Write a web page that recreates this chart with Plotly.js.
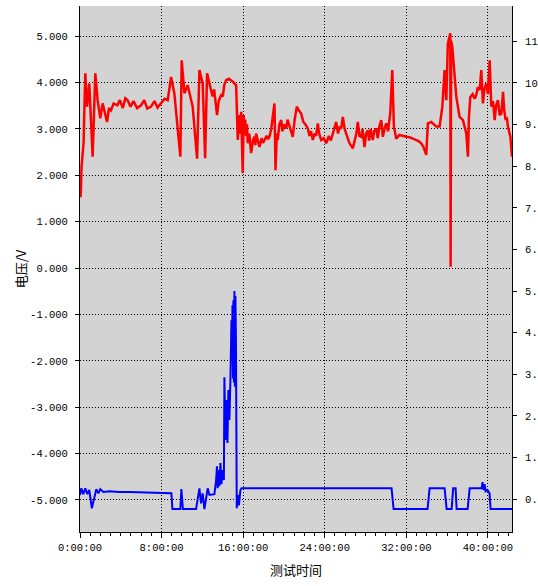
<!DOCTYPE html>
<html>
<head>
<meta charset="utf-8">
<script src="https://cdn.plot.ly/plotly-3.0.1.min.js"></script>
<style>html,body{margin:0;padding:0;background:#fff}#chart{width:538px;height:586px}</style>
</head>
<body>
<div id="chart"></div>
<script>
// Red series: [test time (hours), voltage (V, left axis)]
var redPoints = [
[0.0,1.65],[0.05,1.53],[0.1,1.75],[0.15,2.18],[0.35,2.69],[0.52,4.2],[0.69,3.48],[0.91,3.98],[1.24,2.4],[1.5,4.2],
[1.73,3.62],[1.99,3.23],[2.22,3.55],[2.45,3.3],[2.65,3.15],[2.85,3.45],[3.04,3.4],[3.3,3.55],[3.66,3.51],[3.9,3.62],
[4.2,3.45],[4.45,3.66],[4.67,3.62],[4.95,3.48],[5.25,3.6],[5.6,3.45],[5.99,3.51],[6.3,3.62],[6.6,3.44],[6.97,3.48],
[7.3,3.6],[7.6,3.46],[7.95,3.55],[8.3,3.65],[8.6,3.62],[8.93,4.12],[9.25,3.77],[9.84,2.4],[9.97,4.48],[10.24,3.77],
[10.56,3.94],[11.05,3.48],[11.48,2.36],[11.71,4.27],[12.03,3.98],[12.27,2.37],[12.46,4.2],[12.86,3.84],[13.0,3.7],[13.15,3.85],
[13.3,3.5],[13.44,3.3],[13.6,3.6],[13.84,3.73],[14.0,3.7],[14.15,3.95],[14.33,4.05],[14.6,4.08],[14.98,4.02],[15.31,3.94],
[15.47,2.76],[15.6,3.3],[15.7,2.9],[15.8,3.37],[15.96,2.05],[16.05,3.3],[16.12,2.9],[16.2,3.2],[16.29,2.85],[16.37,3.1],
[16.45,2.69],[16.6,2.9],[16.78,2.48],[16.95,2.75],[17.1,2.83],[17.2,2.65],[17.27,2.9],[17.45,2.75],[17.6,2.61],[17.8,2.8],
[17.95,2.7],[18.09,2.76],[18.3,2.85],[18.45,2.78],[18.58,2.83],[18.75,3.0],[18.9,3.33],[19.07,3.55],[19.17,2.11],[19.3,2.9],
[19.39,2.76],[19.55,3.1],[19.73,3.19],[19.85,2.95],[20.0,3.1],[20.22,3.01],[20.35,3.2],[20.54,3.05],[20.7,2.95],[20.86,2.83],
[21.05,3.2],[21.26,3.48],[21.45,3.4],[21.69,3.33],[21.9,3.15],[22.1,3.1],[22.34,3.01],[22.5,2.85],[22.65,2.95],[22.83,2.76],
[23.0,2.9],[23.15,2.85],[23.32,3.12],[23.45,2.9],[23.65,2.76],[23.9,2.8],[24.14,2.69],[24.4,2.85],[24.6,2.75],[24.79,2.9],
[24.95,3.0],[25.12,3.15],[25.3,2.9],[25.45,3.05],[25.6,3.0],[25.77,3.26],[25.95,3.0],[26.1,2.9],[26.4,2.7],[26.75,2.58],
[26.95,2.75],[27.1,2.9],[27.24,3.15],[27.4,2.85],[27.58,2.83],[27.7,3.0],[27.9,2.61],[28.05,2.9],[28.22,2.97],[28.35,2.75],
[28.5,3.0],[28.71,2.76],[28.85,2.95],[29.05,3.01],[29.2,2.8],[29.35,3.05],[29.54,3.19],[29.7,2.83],[29.85,3.0],[30.03,3.12],
[30.2,2.95],[30.42,3.33],[30.62,4.27],[30.78,3.05],[31.01,2.79],[31.33,2.87],[31.99,2.83],[32.3,2.82],[32.64,2.79],[32.97,2.76],
[33.2,2.74],[33.46,2.69],[33.7,2.6],[33.95,2.44],[34.11,3.12],[34.45,3.15],[34.94,3.05],[35.26,3.05],[35.53,3.48],[35.75,4.27],
[35.92,3.62],[36.07,4.84],[36.31,5.06],[36.34,0.03],[36.39,4.9],[36.51,4.77],[36.73,4.05],[36.9,3.69],[37.22,3.26],[37.55,3.19],
[37.88,2.9],[38.04,2.4],[38.14,3.26],[38.27,3.69],[38.5,3.75],[38.7,3.65],[38.86,3.73],[39.0,3.9],[39.19,3.84],[39.35,4.27],
[39.51,3.55],[39.65,3.85],[39.84,3.98],[40.0,3.75],[40.17,4.48],[40.33,3.48],[40.5,3.6],[40.66,3.19],[40.8,3.5],[40.98,3.62],
[41.15,3.3],[41.32,3.33],[41.48,3.8],[41.6,3.4],[41.74,3.19],[41.85,3.25],[41.96,3.05],[42.1,2.95],[42.2,2.83],[42.36,2.4]
];

// Blue series: [test time (hours), value (right axis)]
var bluePoints = [
[0.0,0.1],[0.13,0.26],[0.32,0.12],[0.52,0.26],[0.72,0.12],[0.91,0.22],[1.16,-0.22],[1.4,0.07],[1.6,0.24],[1.8,0.14],
[1.99,0.24],[2.29,0.17],[2.88,0.19],[3.86,0.17],[4.84,0.17],[8.96,0.14],[9.06,-0.24],[9.84,-0.24],[9.94,0.24],[10.09,-0.24],
[11.38,-0.24],[11.71,0.26],[11.87,-0.1],[12.03,0.14],[12.2,-0.24],[12.52,0.26],[12.69,0.1],[13.18,0.12],[13.35,0.46],[13.43,0.79],
[13.5,0.26],[13.57,0.7],[13.67,0.31],[13.77,0.87],[13.87,0.36],[13.96,0.7],[14.11,0.46],[14.16,2.93],[14.26,1.42],[14.36,2.38],
[14.46,1.35],[14.55,2.62],[14.65,1.9],[14.75,2.86],[14.85,4.3],[14.9,3.34],[14.95,4.66],[15.0,2.9],[15.04,4.78],[15.09,2.8],
[15.14,5.0],[15.19,2.7],[15.24,4.88],[15.29,3.9],[15.37,-0.22],[15.49,0.1],[15.58,-0.15],[15.73,0.22],[15.83,0.26],[30.55,0.26],
[30.75,-0.24],[34.08,-0.24],[34.28,0.26],[35.75,0.26],[35.95,-0.24],[36.44,-0.24],[36.59,0.26],[36.83,0.26],[36.93,-0.24],[38.01,-0.24],
[38.21,0.26],[39.38,0.26],[39.47,0.41],[39.57,0.22],[39.67,0.36],[39.77,0.19],[39.96,0.22],[40.16,0.14],[40.26,-0.24],[42.36,-0.24]
];

var xTickVals = [0, 8, 16, 24, 32, 40];
var xTickText = ['0:00:00', '8:00:00', '16:00:00', '24:00:00', '32:00:00', '40:00:00'];
var yTickVals = [-5, -4, -3, -2, -1, 0, 1, 2, 3, 4, 5];
var yTickText = ['-5.000', '-4.000', '-3.000', '-2.000', '-1.000', '0.000', '1.000', '2.000', '3.000', '4.000', '5.000'];
var y2TickVals = [0, 1, 2, 3, 4, 5, 6, 7, 8, 9, 10, 11];
var y2TickText = ['0.0', '1.0', '2.0', '3.0', '4.0', '5.0', '6.0', '7.0', '8.0', '9.0', '10.0', '11.0'];

var tickFont = {family: 'Liberation Mono, DejaVu Sans Mono, monospace', size: 10.5, color: '#000'};
var titleFont = {family: 'Noto Sans CJK SC, sans-serif', size: 13, color: '#000'};

var traces = [
  {x: redPoints.map(function(p){return p[0];}), y: redPoints.map(function(p){return p[1];}),
   type: 'scatter', mode: 'lines', yaxis: 'y',
   line: {color: '#ff0000', width: 2.5}, hoverinfo: 'skip'},
  {x: bluePoints.map(function(p){return p[0];}), y: bluePoints.map(function(p){return p[1];}),
   type: 'scatter', mode: 'lines', yaxis: 'y2',
   line: {color: '#0000ff', width: 2}, hoverinfo: 'skip'}
];

var layout = {
  width: 538, height: 586,
  margin: {l: 80, r: 26, t: 6, b: 54},
  paper_bgcolor: '#ffffff',
  plot_bgcolor: '#d3d3d3',
  showlegend: false,
  xaxis: {
    range: [0, 42.36],
    tickmode: 'array', tickvals: xTickVals, ticktext: xTickText,
    ticks: 'outside', ticklen: 5, tickcolor: '#000', tickwidth: 1,
    minor: {dtick: 1, ticks: 'outside', ticklen: 3, tickcolor: '#000', showgrid: false},
    showline: true, linecolor: '#000', linewidth: 1,
    showgrid: true, gridcolor: '#000', gridwidth: 1, griddash: '1px,2px',
    zeroline: false,
    tickfont: tickFont,
    title: {text: '测试时间', font: titleFont, standoff: 13}
  },
  yaxis: {
    range: [-5.69, 5.65],
    tickmode: 'array', tickvals: yTickVals, ticktext: yTickText,
    ticks: 'outside', ticklen: 4, tickcolor: '#000',
    ticklabelstandoff: 5,
    showline: true, linecolor: '#000', linewidth: 1,
    showgrid: true, gridcolor: '#000', gridwidth: 1, griddash: '1px,2px',
    zeroline: false,
    tickfont: tickFont,
    title: {text: '电压/V', font: titleFont, standoff: 0}
  },
  yaxis2: {
    overlaying: 'y', side: 'right',
    range: [-0.79, 11.85],
    tickmode: 'array', tickvals: y2TickVals, ticktext: y2TickText,
    ticks: 'outside', ticklen: 4, tickcolor: '#000',
    ticklabelstandoff: 6,
    showline: true, linecolor: '#000', linewidth: 1,
    showgrid: false, zeroline: false,
    tickfont: tickFont
  }
};

Plotly.newPlot('chart', traces, layout, {staticPlot: true, displayModeBar: false});
</script>
</body>
</html>
